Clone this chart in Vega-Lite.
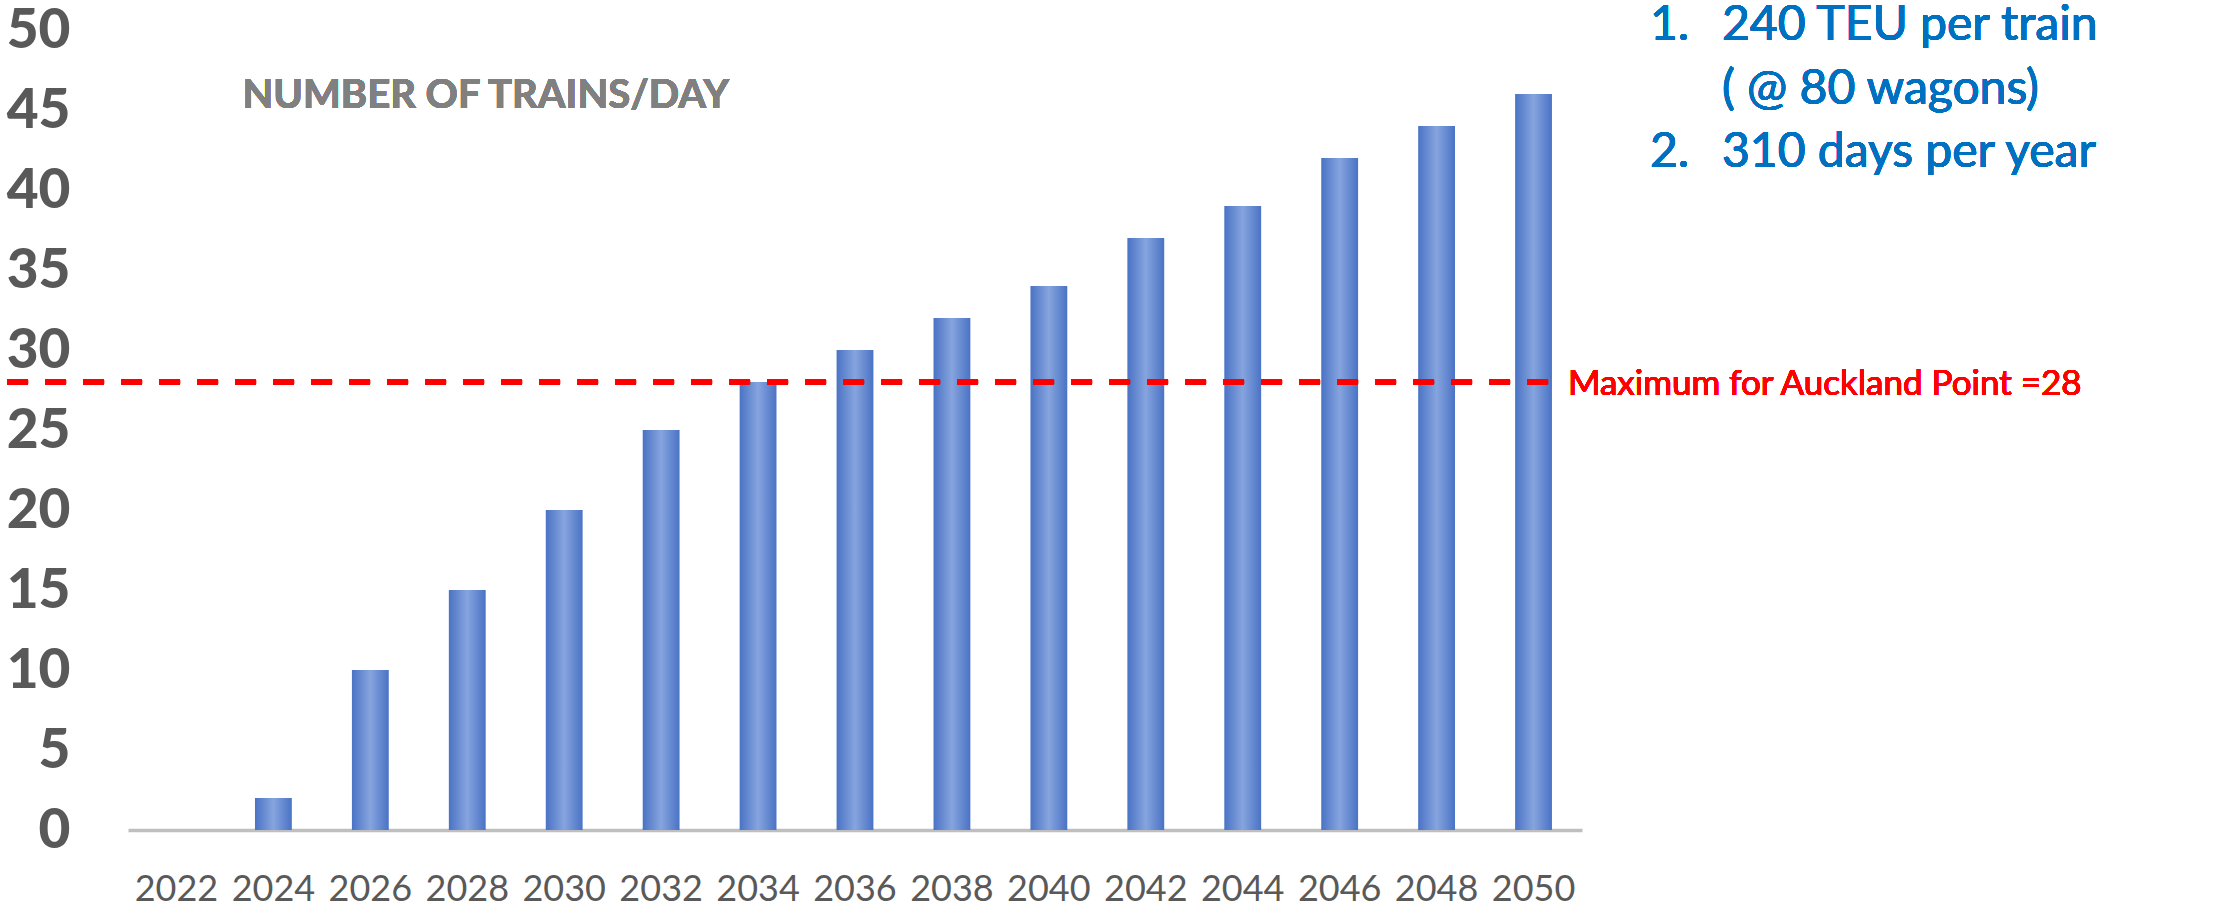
{
  "$schema": "https://vega.github.io/schema/vega-lite/v6.json",
  "width": 1454,
  "height": 800,
  "autosize": {"type": "none"},
  "padding": {"left": 128, "top": 30, "right": 643, "bottom": 74},
  "background": "white",
  "config": {
    "view": {"stroke": null},
    "font": "Lato, sans-serif"
  },
  "data": {
    "values": [
      {"year": "2022", "trains": 0},
      {"year": "2024", "trains": 2},
      {"year": "2026", "trains": 10},
      {"year": "2028", "trains": 15},
      {"year": "2030", "trains": 20},
      {"year": "2032", "trains": 25},
      {"year": "2034", "trains": 28},
      {"year": "2036", "trains": 30},
      {"year": "2038", "trains": 32},
      {"year": "2040", "trains": 34},
      {"year": "2042", "trains": 37},
      {"year": "2044", "trains": 39},
      {"year": "2046", "trains": 42},
      {"year": "2048", "trains": 44},
      {"year": "2050", "trains": 46}
    ]
  },
  "resolve": {"scale": {"x": "independent"}, "axis": {"x": "independent"}},
  "layer": [
    {
      "layer": [
        {
          "mark": {
            "type": "bar",
            "color": {
              "gradient": "linear",
              "x1": 0, "y1": 0, "x2": 1, "y2": 0,
              "stops": [
                {"offset": 0, "color": "#4a73c5"},
                {"offset": 0.5, "color": "#86a4de"},
                {"offset": 1, "color": "#4a73c5"}
              ]
            }
          },
          "encoding": {
            "x": {
              "field": "year",
              "type": "ordinal",
              "scale": {"paddingInner": 0.62, "paddingOuter": 0.31},
              "axis": {
                "title": null,
                "domainColor": "#BFBFBF",
                "domainWidth": 3.5,
                "ticks": false,
                "tickSize": 0,
                "grid": false,
                "labelAngle": 0,
                "labelPadding": 70,
                "labelBaseline": "alphabetic",
                "labelFontSize": 36,
                "labelColor": "#595959"
              }
            },
            "y": {
              "field": "trains",
              "type": "quantitative",
              "scale": {"domain": [0, 50], "nice": false},
              "axis": {
                "title": null,
                "domain": false,
                "ticks": false,
                "tickSize": 0,
                "grid": false,
                "values": [0, 5, 10, 15, 20, 25, 30, 35, 40, 45, 50],
                "labelPadding": 58,
                "labelFontSize": 55,
                "labelFontWeight": 900,
                "labelColor": "#595959"
              }
            }
          }
        },
        {
          "mark": {
            "type": "text",
            "text": "NUMBER OF TRAINS/DAY",
            "dx": 66,
            "dy": 78,
            "align": "left",
            "baseline": "alphabetic",
            "fontSize": 40,
            "fontWeight": "bold",
            "color": "#808080"
          },
          "encoding": {"x": {"datum": "2022"}, "y": {"datum": 50}}
        },
        {
          "mark": {
            "type": "text",
            "text": "Maximum for Auckland Point =28",
            "x": "width",
            "dx": -14,
            "dy": 13,
            "align": "left",
            "baseline": "alphabetic",
            "fontSize": 35,
            "color": "#FF0000"
          },
          "encoding": {"y": {"datum": 28}}
        },
        {
          "mark": {
            "type": "text",
            "text": "1.",
            "x": "width",
            "dx": 68,
            "dy": 10,
            "align": "left",
            "baseline": "alphabetic",
            "fontSize": 48,
            "color": "#0070C0"
          },
          "encoding": {"y": {"datum": 50}}
        },
        {
          "mark": {
            "type": "text",
            "text": "2.",
            "x": "width",
            "dx": 68,
            "dy": 137,
            "align": "left",
            "baseline": "alphabetic",
            "fontSize": 48,
            "color": "#0070C0"
          },
          "encoding": {"y": {"datum": 50}}
        },
        {
          "mark": {
            "type": "text",
            "text": ["240 TEU per train", "( @ 80 wagons)", "310 days per year"],
            "x": "width",
            "dx": 140,
            "dy": 10,
            "align": "left",
            "baseline": "alphabetic",
            "lineHeight": 63.5,
            "fontSize": 48,
            "color": "#0070C0"
          },
          "encoding": {"y": {"datum": 50}}
        }
      ]
    },
    {
      "mark": {
        "type": "rule",
        "color": "#FF0000",
        "strokeWidth": 5,
        "strokeDash": [21, 17]
      },
      "encoding": {
        "x": {"datum": -0.0832, "type": "quantitative", "scale": {"domain": [0, 1], "nice": false, "zero": false}, "axis": null},
        "x2": {"datum": 0.9835},
        "y": {"datum": 28}
      }
    }
  ]
}
